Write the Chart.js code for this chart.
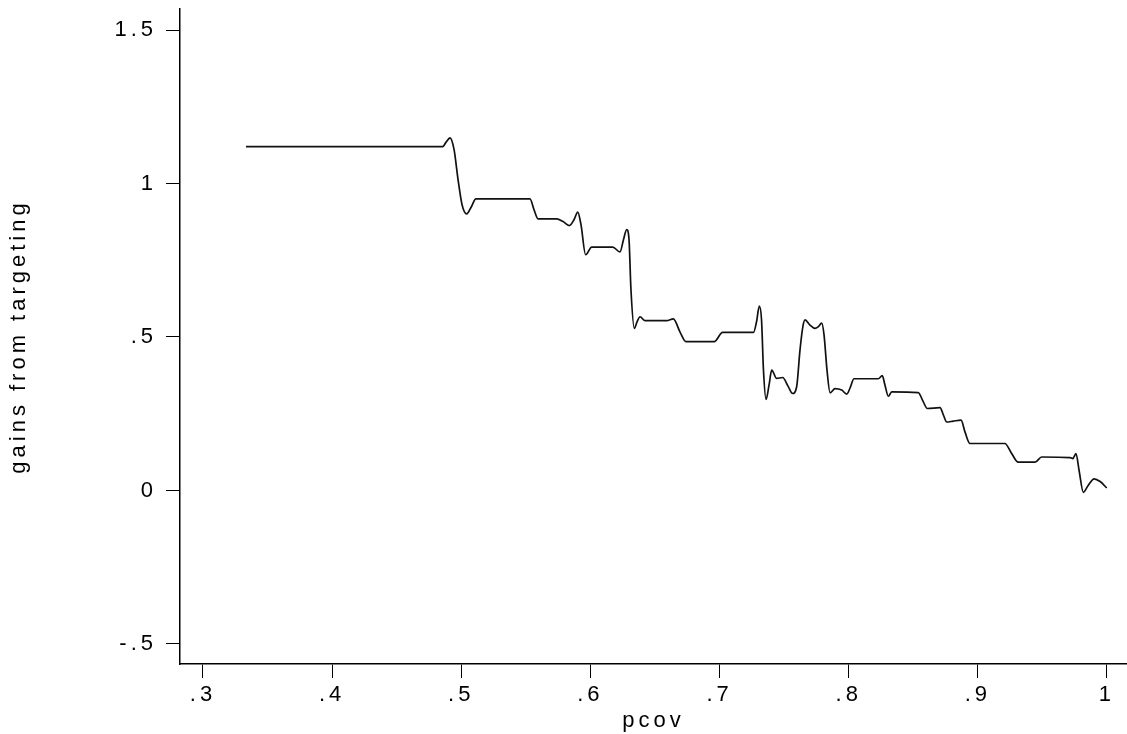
<!DOCTYPE html>
<html>
<head>
<meta charset="utf-8">
<title>gains from targeting</title>
<script src="https://cdn.jsdelivr.net/npm/chart.js@4.4.1/dist/chart.umd.min.js"></script>
<style>
  html, body { margin: 0; padding: 0; background: #fff; }
  #wrap { width: 1127px; height: 734px; position: relative; }
</style>
</head>
<body>
<div id="wrap"><canvas id="gainsChart"></canvas></div>
<script>
// smoothed gains curve, pcov on x
const pcov = [
  0.3333, 0.4856, 0.4881, 0.4913, 0.4944, 0.4975, 0.5006, 0.5042, 0.5075, 0.5114,
  0.5532, 0.5563, 0.5594, 0.5739, 0.5788, 0.5837, 0.5873, 0.5902, 0.5927, 0.5963,
  0.6010, 0.6173, 0.6229, 0.6256, 0.6281, 0.6299, 0.6314, 0.6340, 0.6361, 0.6384,
  0.6423, 0.6591, 0.6642, 0.6694, 0.6740, 0.6959, 0.7024, 0.7263, 0.7286, 0.7308,
  0.7325, 0.7340, 0.7360, 0.7383, 0.7404, 0.7442, 0.7489, 0.7530, 0.7566, 0.7597,
  0.7623, 0.7646, 0.7662, 0.7700, 0.7739, 0.7763, 0.7791, 0.7809, 0.7832, 0.7856,
  0.7894, 0.7946, 0.7985, 0.8010, 0.8041, 0.8229, 0.8260, 0.8281, 0.8307, 0.8333,
  0.8539, 0.8575, 0.8609, 0.8707, 0.8734, 0.8759, 0.8810, 0.8870, 0.8901, 0.8939,
  0.9210, 0.9257, 0.9313, 0.9443, 0.9494, 0.9714, 0.9735, 0.9760, 0.9784, 0.9817,
  0.9854, 0.9900, 0.9947, 0.9998
];
const gains = [
  1.120, 1.120, 1.134, 1.149, 1.111, 1.013, 0.931, 0.901, 0.922, 0.950,
  0.950, 0.915, 0.885, 0.885, 0.876, 0.863, 0.882, 0.907, 0.866, 0.768,
  0.793, 0.793, 0.777, 0.817, 0.850, 0.817, 0.654, 0.528, 0.549, 0.566,
  0.553, 0.553, 0.559, 0.516, 0.485, 0.485, 0.515, 0.515, 0.549, 0.601,
  0.556, 0.392, 0.297, 0.343, 0.392, 0.365, 0.368, 0.340, 0.316, 0.338,
  0.458, 0.536, 0.556, 0.539, 0.528, 0.533, 0.545, 0.507, 0.392, 0.318,
  0.332, 0.327, 0.314, 0.333, 0.364, 0.364, 0.374, 0.343, 0.307, 0.321,
  0.319, 0.291, 0.267, 0.270, 0.245, 0.223, 0.226, 0.229, 0.190, 0.153,
  0.153, 0.124, 0.092, 0.092, 0.109, 0.107, 0.104, 0.120, 0.065, -0.006,
  0.016, 0.038, 0.029, 0.008
];
const xTicks = [0.3, 0.4, 0.5, 0.6, 0.7, 0.8, 0.9, 1];
const yTicks = [-0.5, 0, 0.5, 1, 1.5];

const FONT = '"Liberation Sans", Arial, Helvetica, sans-serif';

// ".3" style labels, no leading zero
function stataLabel(v) {
  let s = String(Math.round(v * 100) / 100);
  return s.replace(/^0\./, '.').replace(/^-0\./, '-.');
}

// wide letter spacing on all canvas text
const spacing = {
  id: 'spacing',
  beforeUpdate(chart) { chart.ctx.letterSpacing = '4px'; },
  beforeDraw(chart) { chart.ctx.letterSpacing = '4px'; }
};

const points = pcov.map((x, i) => ({ x: x, y: gains[i] }));

new Chart(document.getElementById('gainsChart'), {
  type: 'scatter',
  data: {
    datasets: [{
      data: points,
      showLine: true,
      borderColor: '#111',
      borderWidth: 1.7,
      pointRadius: 0,
      cubicInterpolationMode: 'monotone'
    }]
  },
  options: {
    responsive: true,
    maintainAspectRatio: false,
    animation: false,
    layout: { padding: { top: 9, right: 0, left: 0, bottom: 0 } },
    plugins: { legend: { display: false }, tooltip: { enabled: false } },
    scales: {
      x: {
        type: 'linear',
        min: 0.2822,
        max: 1.0155,
        afterBuildTicks(axis) { axis.ticks = xTicks.map(v => ({ value: v })); },
        afterFit(axis) { axis.height = 70; axis.paddingLeft = 0; axis.paddingRight = 0; },
        grid: { drawOnChartArea: false, drawTicks: true, tickLength: 14, color: '#000', lineWidth: 1 },
        border: { display: true, color: '#000', width: 1.5 },
        ticks: {
          color: '#000', padding: 4, maxRotation: 0,
          font: { family: FONT, size: 22 },
          callback: v => stataLabel(v)
        },
        title: {
          display: true, text: 'pcov', color: '#000',
          font: { family: FONT, size: 22 },
          padding: { top: -16, bottom: 0 }
        }
      },
      y: {
        type: 'linear',
        min: -0.5654,
        max: 1.5686,
        afterBuildTicks(axis) { axis.ticks = yTicks.map(v => ({ value: v })); },
        afterFit(axis) { axis.width = 180; axis.paddingTop = 0; axis.paddingBottom = 0; },
        grid: { drawOnChartArea: false, drawTicks: true, tickLength: 14, color: '#000', lineWidth: 1 },
        border: { display: true, color: '#000', width: 1.5 },
        ticks: {
          color: '#000', padding: 9,
          font: { family: FONT, size: 22 },
          callback: v => stataLabel(v)
        },
        title: {
          display: true, text: 'gains from targeting', color: '#000',
          font: { family: FONT, size: 22 },
          padding: { top: 6, bottom: 0 }
        }
      }
    }
  },
  plugins: [spacing]
});
</script>
</body>
</html>
